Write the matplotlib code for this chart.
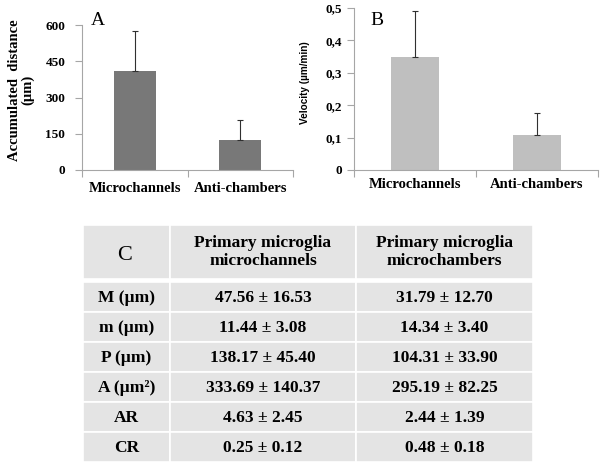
import matplotlib
matplotlib.use('Agg')
import matplotlib.pyplot as plt
from matplotlib.patches import Rectangle
from matplotlib.ticker import FuncFormatter

# data
categories = ['Microchannels', 'Anti-chambers']
distance = [410, 125]
distance_err = [165, 80]
velocity = [0.35, 0.107]
velocity_err = [0.14, 0.07]

table_header = ['C', 'Primary microglia\nmicrochannels', 'Primary microglia\nmicrochambers']
row_labels = ['M (µm)', 'm (µm)', 'P (µm)', 'A (µm²)', 'AR', 'CR']
col_channels = ['47.56 ± 16.53', '11.44 ± 3.08', '138.17 ± 45.40', '333.69 ± 140.37', '4.63 ± 2.45', '0.25 ± 0.12']
col_chambers = ['31.79 ± 12.70', '14.34 ± 3.40', '104.31 ± 33.90', '295.19 ± 82.25', '2.44 ± 1.39', '0.48 ± 0.18']

SERIF = 'Liberation Serif'
W, H = 600, 463


def px_axes(fig, x0, y0, x1, y1):
    # axes from pixel box (top-left origin)
    return fig.add_axes([x0 / W, 1 - y1 / H, (x1 - x0) / W, (y1 - y0) / H])


def style_bar_axes(ax, ypad, label_offset):
    for s in ['top', 'right']:
        ax.spines[s].set_visible(False)
    for s in ['left', 'bottom']:
        ax.spines[s].set_color('#a6a6a6')
        ax.spines[s].set_linewidth(0.8)
    ax.set_xlim(-0.5, 1.5)
    ax.set_xticks([-0.5, 0.5, 1.5])
    ax.set_xticklabels([])
    ax.tick_params(axis='x', length=5, color='#a6a6a6', width=0.8)
    ax.yaxis.set_tick_params(length=5, color='#a6a6a6', width=0.8, pad=ypad,
                             labelsize=9.5, labelfontfamily=SERIF)
    for t in ax.yaxis.get_major_ticks():
        t.set_pad(ypad)
    for lbl in ax.get_yticklabels():
        lbl.set_fontweight('bold')
    for i, c in enumerate(categories):
        ax.text(i, -label_offset, c, transform=ax.get_xaxis_transform(), ha='center', va='center',
                fontfamily=SERIF, fontweight='bold', fontsize=10.5)


fig = plt.figure(figsize=(6, 4.63), dpi=100)

# panel A
axA = px_axes(fig, 82, 25, 293, 170)
axA.bar(range(2), distance, width=0.4, color='#787878')
axA.errorbar(range(2), distance, yerr=[[0, 0], distance_err], fmt='none',
             ecolor='#303030', elinewidth=0.8, capsize=2.5, capthick=0.8)
axA.set_ylim(0, 600)
axA.set_yticks([0, 150, 300, 450, 600])
style_bar_axes(axA, ypad=7, label_offset=18 / 145)
axA.set_ylabel('Accumulated  distance\n(µm)', fontfamily=SERIF, fontweight='bold', fontsize=10.5,
               linespacing=1.0)
axA.yaxis.set_label_coords(-0.225, 0.55)
axA.text(0.04, 1.03, 'A', transform=axA.transAxes, ha='left', va='center', fontfamily=SERIF, fontsize=14)

# panel B
axB = px_axes(fig, 354, 8, 598, 170)
axB.bar(range(2), velocity, width=0.39, color='#bfbfbf')
axB.errorbar(range(2), velocity, yerr=[[0, 0], velocity_err], fmt='none',
             ecolor='#303030', elinewidth=0.8, capsize=2.5, capthick=0.8)
axB.set_ylim(0, 0.5)
axB.set_yticks([0, 0.1, 0.2, 0.3, 0.4, 0.5])
axB.yaxis.set_major_formatter(FuncFormatter(lambda v, p: '0' if v == 0 else f'{v:.1f}'.replace('.', ',')))
style_bar_axes(axB, ypad=3.5, label_offset=15 / 162)
axB.set_ylabel('Velocity (µm/min)', fontfamily='Liberation Sans', fontweight='bold', fontsize=7.2)
axB.yaxis.set_label_coords(-0.18, 0.537)
axB.text(0.066, 0.92, 'B', transform=axB.transAxes, ha='left', va='center', fontfamily=SERIF, fontsize=14)

# panel C: table
axC = px_axes(fig, 0, 0, W, H)
axC.set_xlim(0, W)
axC.set_ylim(H, 0)
axC.axis('off')
col_x = [83, 170, 356, 533]
row_y = [225, 279, 282, 312, 342, 372, 402, 432, 462]
cell_bg = '#e4e4e4'

# header row
for j, txt in enumerate(table_header):
    axC.add_patch(Rectangle((col_x[j], row_y[0]), col_x[j + 1] - col_x[j], row_y[1] - row_y[0],
                            facecolor=cell_bg, edgecolor='white', linewidth=1.2))
    cx = (col_x[j] + col_x[j + 1]) / 2
    cy = (row_y[0] + row_y[1]) / 2
    if j == 0:
        axC.text(cx - 2, cy + 3, txt, ha='center', va='center', fontfamily=SERIF, fontsize=16)
    else:
        axC.text(cx, cy, txt, ha='center', va='center', fontfamily=SERIF, fontweight='bold',
                 fontsize=12.5, linespacing=1.15)

# body rows
for i in range(len(row_labels)):
    cells = [row_labels[i], col_channels[i], col_chambers[i]]
    y0, y1 = row_y[i + 2], row_y[i + 3]
    for j, txt in enumerate(cells):
        axC.add_patch(Rectangle((col_x[j], y0), col_x[j + 1] - col_x[j], y1 - y0,
                                facecolor=cell_bg, edgecolor='white', linewidth=1.2))
        axC.text((col_x[j] + col_x[j + 1]) / 2, (y0 + y1) / 2 + 0.5, txt, ha='center', va='center',
                 fontfamily=SERIF, fontweight='bold', fontsize=12.5)

fig.savefig('out.png', dpi=100)
